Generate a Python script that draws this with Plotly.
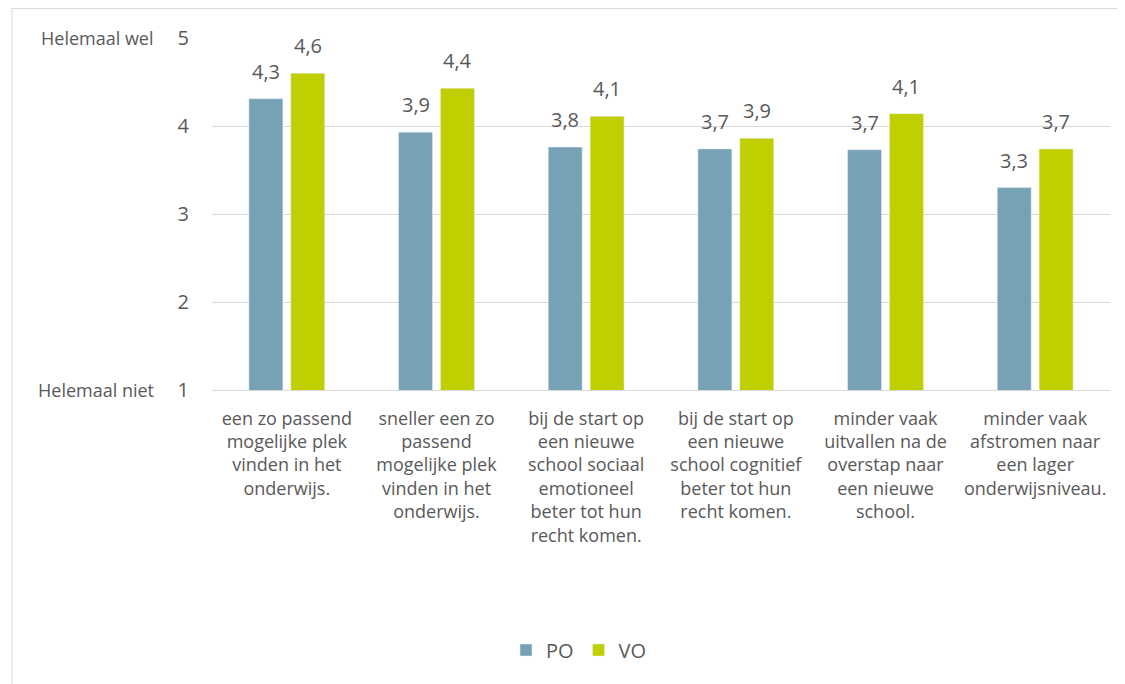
import plotly.graph_objects as go

categories = [
    "een zo passend<br>mogelijke plek<br>vinden in het<br>onderwijs.",
    "sneller een zo<br>passend<br>mogelijke plek<br>vinden in het<br>onderwijs.",
    "bij de start op<br>een nieuwe<br>school sociaal<br>emotioneel<br>beter tot hun<br>recht komen.",
    "bij de start op<br>een nieuwe<br>school cognitief<br>beter tot hun<br>recht komen.",
    "minder vaak<br>uitvallen na de<br>overstap naar<br>een nieuwe<br>school.",
    "minder vaak<br>afstromen naar<br>een lager<br>onderwijsniveau.",
]
po_values = [4.31, 3.93, 3.76, 3.74, 3.73, 3.30]
vo_values = [4.60, 4.43, 4.11, 3.86, 4.14, 3.74]
y_ticks = [1, 2, 3, 4, 5]
y_end_labels = {5: "Helemaal wel", 1: "Helemaal niet"}

FONT = "Open Sans, sans-serif"
TXT = "#595959"

# page body has an 8px margin; work in screen px then subtract it
OFF = 8
W, H = 1125, 684
L = 212 - OFF
T = 38 - OFF
R = W - (1110 - OFF)
B = H - (390 - OFF)
pw = W - L - R
ph = H - T - B
BARGAP = 0.44
cat_px = pw / len(categories)
half_slot = cat_px * (1 - BARGAP) / 4


def px_x(sx):
    return (sx - OFF - L) / pw


def px_y(sy):
    return (T + ph - (sy - OFF)) / ph


def fmt(v):
    return f"{v:.1f}".replace(".", ",")


fig = go.Figure()
fig.add_trace(go.Bar(name="PO", x=categories, y=po_values, marker_color="#77A1B5"))
fig.add_trace(go.Bar(name="VO", x=categories, y=vo_values, marker_color="#C0CF00"))

annotations = []
for series, sign in ((po_values, -1), (vo_values, 1)):
    for c, v in zip(categories, series):
        annotations.append(dict(x=c, y=v, xref="x", yref="y", text=fmt(v),
                                showarrow=False, xanchor="center", yanchor="bottom",
                                xshift=sign * half_slot, yshift=12,
                                font=dict(size=20, color=TXT, family=FONT)))
for v, lab in y_end_labels.items():
    annotations.append(dict(x=px_x(156), y=v, xref="paper", yref="y", text=lab,
                            showarrow=False, xanchor="right", yanchor="middle",
                            font=dict(size=18, color=TXT, family=FONT)))

fig.update_layout(
    width=W, height=H,
    margin=dict(l=L, r=R, t=T, b=B),
    plot_bgcolor="white", paper_bgcolor="white",
    barmode="group", bargap=BARGAP, bargroupgap=0.19,
    font=dict(family=FONT, color=TXT, size=18),
    showlegend=True,
    legend=dict(orientation="h", x=px_x(579), xanchor="center",
                y=px_y(650), yanchor="middle",
                font=dict(size=20, color=TXT, family=FONT),
                itemwidth=30, traceorder="normal"),
    yaxis=dict(range=[1, 5], tickvals=y_ticks, showgrid=True, gridcolor="#D9D9D9",
               gridwidth=1, zeroline=False, showline=False, ticks="",
               tickfont=dict(size=20, color=TXT, family=FONT), ticklabelstandoff=22),
    xaxis=dict(showline=True, linecolor="#D9D9D9", linewidth=1, ticks="",
               tickfont=dict(size=18, color=TXT, family=FONT), tickangle=0,
               ticklabelstandoff=12),
    annotations=annotations,
    shapes=[dict(type="rect", xref="paper", yref="paper",
                 x0=px_x(12), x1=px_x(1123),
                 y0=px_y(700), y1=px_y(8.5),
                 line=dict(color="#D9D9D9", width=1), fillcolor="rgba(0,0,0,0)",
                 layer="below")],
)

fig.write_html("out.html")
